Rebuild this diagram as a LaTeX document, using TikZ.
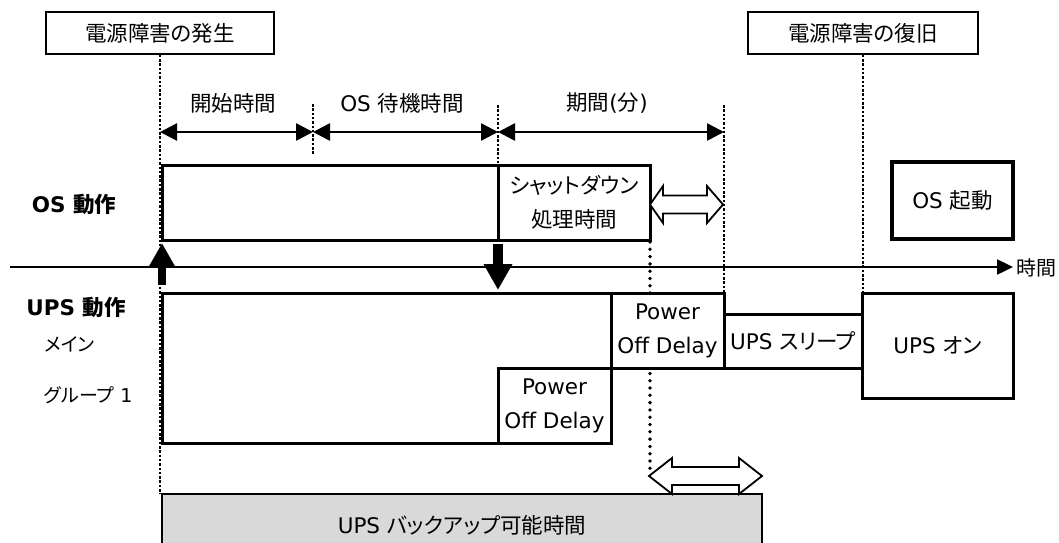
\documentclass[tikz,border=0pt]{standalone}
\usepackage{fontspec}
\setmainfont{DejaVu Sans}
\newfontfamily\jp[RawFeature=+palt]{Noto Sans CJK JP}
\usetikzlibrary{arrows.meta}
\definecolor{backgray}{HTML}{D9D9D9}
\tikzset{
  thinbox/.style={draw, line width=1.5pt, inner sep=0pt, fill=white},
  box/.style={draw, line width=3pt, inner sep=0pt, fill=white, align=center},
  dots/.style={line width=2.3pt, dash pattern=on 2.5pt off 1.8pt},
  bigdots/.style={line width=3.8pt, dash pattern=on 0pt off 7.3pt, line cap=round},
  dimarrow/.style={line width=2.6pt, {Triangle[length=17pt,width=17pt]}-{Triangle[length=17pt,width=17pt]}},
  hollow/.style={draw, line width=1.8pt, fill=white, line join=miter},
  lbl/.style={inner sep=0pt},
  small/.style={font=\fontsize{19}{22}\selectfont},
  twoline/.style={font=\fontsize{21.5}{34}\selectfont}
}
\begin{document}
\begin{tikzpicture}[x=1pt,y=-1pt,font=\fontsize{21.5}{24}\selectfont]
\useasboundingbox (0,0) rectangle (1059,542);
\clip (0,0) rectangle (1059,542);

% event boxes
\node[thinbox, minimum width=228pt, minimum height=42pt] (ev1) at (160,33) {\jp 電源障害の発生};
\node[thinbox, minimum width=230pt, minimum height=42pt] (ev2) at (863,33) {\jp 電源障害の復旧};

% coordinates
\coordinate (d0) at (160,494);
\coordinate (t1a) at (313,104);
\coordinate (t1b) at (313,155);
\coordinate (t2a) at (498,105);
\coordinate (t2b) at (498,165);
\coordinate (t3a) at (724,105);
\coordinate (t3b) at (724,293);
\coordinate (r0) at (863,293);
\coordinate (p0) at (650,242);
\coordinate (p1) at (650,474);
\coordinate (a0) at (160,132);
\coordinate (a1) at (313,132);
\coordinate (a2) at (498,132);
\coordinate (a3) at (724,132);

% dotted guide lines
\draw[dots] (ev1.south) -- (d0);
\draw[dots] (ev2.south) -- (r0);
\draw[dots] (t1a) -- (t1b);
\draw[dots] (t2a) -- (t2b);
\draw[dots] (t3a) -- (t3b);
\draw[bigdots] (p0) -- (p1);

% dimension arrows and labels
\draw[dimarrow] (a0) -- (a1);
\draw[dimarrow] (a1) -- (a2);
\draw[dimarrow] (a2) -- (a3);
\node[lbl] (l1) at (233,103) {\jp 開始時間};
\node[lbl] (l2) at (402,103) {OS {\jp 待機時間}};
\node[lbl] (l3) at (607,103) {{\jp 期間}({\jp 分})};

% OS row
\node[lbl, font=\fontsize{21.5}{24}\selectfont\bfseries] (oslbl) at (74,204) {OS {\jp\bfseries 動作}};
\node[box, minimum width=336pt, minimum height=75pt] (osbox) at (330,202.5) {};
\node[box, twoline, minimum width=152pt, minimum height=75pt] (sdbox) at (574,202.5) {{\jp シャットダウン}\\{\jp 処理時間}};
\node[box, line width=3.4pt, minimum width=121pt, minimum height=77pt] (osup) at (952.5,200.5) {OS {\jp 起動}};
\draw[hollow] (650,204.5) -- (663,186) -- (663,195.5) -- (707,195.5) -- (707,186) -- (723,204.5)
  -- (707,223) -- (707,213.5) -- (663,213.5) -- (663,223) -- cycle;

% time axis
\coordinate (tl0) at (10,267);
\coordinate (tl1) at (1013,267);
\draw[line width=2.4pt, -{Triangle[length=16pt,width=15pt]}] (tl0) -- (tl1);
\node[lbl, anchor=west, font=\fontsize{20}{24}\selectfont] (tlbl) at (1016,268) {\jp 時間};

% UPS row
\node[lbl, font=\fontsize{21.5}{24}\selectfont\bfseries] (upslbl) at (76,307) {UPS {\jp\bfseries 動作}};
\node[lbl, small, anchor=west] (mainlbl) at (44,344) {\jp メイン};
\node[lbl, small, anchor=west] (grplbl) at (44,395) {{\jp グループ} 1};
\node[box, minimum width=449pt, minimum height=150pt] (upsbig) at (386.5,368) {};
\node[box, twoline, minimum width=113pt, minimum height=75pt] (pod2) at (554.5,405.5) {Power\\Off Delay};
\node[box, twoline, minimum width=113pt, minimum height=75pt] (pod1) at (667.5,330.5) {Power\\Off Delay};
\node[box, minimum width=138pt, minimum height=54pt] (sleep) at (793,341) {UPS {\jp スリープ}};
\node[box, minimum width=151pt, minimum height=105pt] (upson) at (937.5,345.5) {UPS {\jp オン}};

% thick event arrows
\coordinate (ua0) at (162,285);
\coordinate (ua1) at (162,243);
\coordinate (da0) at (498,244);
\coordinate (da1) at (498,290);
\draw[line width=8.6pt, -{Triangle[length=24pt,width=25pt]}] (ua0) -- (ua1);
\draw[line width=9.5pt, -{Triangle[length=26pt,width=27pt]}] (da0) -- (da1);

% backup time bar
\node[draw, line width=2.4pt, fill=backgray, inner sep=0pt, minimum width=600pt, minimum height=62pt] (backup) at (462,525) {UPS {\jp バックアップ可能時間}};
\draw[hollow] (649,476) -- (672,458) -- (672,467) -- (739,467) -- (739,458) -- (762,476)
  -- (739,494) -- (739,485) -- (672,485) -- (672,494) -- cycle;
\end{tikzpicture}
\end{document}
